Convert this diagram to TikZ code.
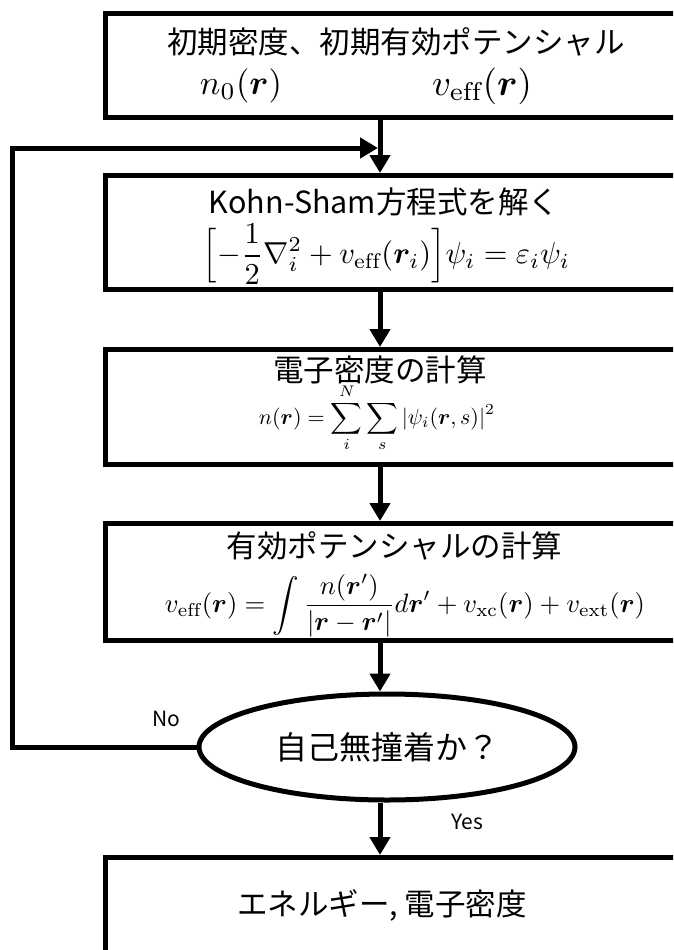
\documentclass[tikz,border=0pt]{standalone}
\usepackage{fontspec}
\usepackage{amsmath,bm,graphicx}
\usetikzlibrary{arrows.meta,shapes.geometric}
\newfontfamily\jp{Noto Sans CJK JP}
\tikzset{
  box/.style={draw, line width=5pt, minimum width=620pt, inner sep=0pt, anchor=north west},
  ttl/.style={font=\jp\fontsize{30.5}{36}\selectfont, inner sep=0pt},
  mth/.style={inner sep=0pt},
  dec/.style={ellipse, draw, line width=5pt, minimum width=376pt, minimum height=106pt, inner sep=0pt, font=\jp\fontsize{32}{38}\selectfont},
  lbl/.style={font=\jp\fontsize{21}{25}\selectfont, inner sep=0pt},
  arr/.style={-{Triangle[length=18pt,width=20pt]}, line width=5pt},
}
\begin{document}
\begin{tikzpicture}[x=1pt,y=-1pt]
\clip (0,0) rectangle (673,950);
\fill[white] (0,0) rectangle (673,950);
\coordinate (ax) at (380,0);
% boxes
\node[box, minimum height=104pt] (b1) at (103,11) {};
\node[box, minimum height=114pt] (b2) at (103,173) {};
\node[box, minimum height=115pt] (b3) at (103,347) {};
\node[box, minimum height=117pt] (b4) at (103,521) {};
\node[box, minimum height=130pt] (b5) at (103,855) {};
% texts
\node[ttl] (t1) at (396,42) {初期密度、初期有効ポテンシャル};
\node[mth] (m1a) at (241,86) {\resizebox{82pt}{!}{$n_0(\bm{r})$}};
\node[mth] (m1b) at (482,86) {\resizebox{100pt}{!}{$v_{\mathrm{eff}}(\bm{r})$}};
\node[ttl] (t2) at (384,202) {Kohn-Sham方程式を解く};
\node[mth] (m2) at (386.5,254) {\resizebox{367pt}{!}{$\displaystyle\Bigl[-\frac{1}{2}\nabla_i^2+v_{\mathrm{eff}}(\bm{r}_i)\Bigr]\psi_i=\varepsilon_i\psi_i$}};
\node[ttl] (t3) at (380,370) {電子密度の計算};
\node[mth] (m3) at (377,418) {\resizebox{236pt}{!}{$\displaystyle n(\bm{r})=\sum_i^N\sum_s|\psi_i(\bm{r},s)|^2$}};
\node[ttl] (t4) at (394.5,546) {有効ポテンシャルの計算};
\node[mth] (m4) at (405,606) {\resizebox{480pt}{!}{$\displaystyle v_{\mathrm{eff}}(\bm{r})=\int\frac{n(\bm{r}')}{|\bm{r}-\bm{r}'|}d\bm{r}'+v_{\mathrm{xc}}(\bm{r})+v_{\mathrm{ext}}(\bm{r})$}};
\node[dec] (d) at (387,747) {自己無撞着か？};
\node[ttl] (t5) at (382,905) {エネルギー, 電子密度};
\node[lbl] (no) at (166,719) {No};
\node[lbl] (yes) at (467,822) {Yes};
% connectors
\draw[arr] (b1.south -| ax) -- (b2.north -| ax);
\draw[arr] (b2.south -| ax) -- (b3.north -| ax);
\draw[arr] (b3.south -| ax) -- (b4.north -| ax);
\draw[arr] (b4.south -| ax) -- (d.north -| ax);
\draw[arr] (d.south -| ax) -- (b5.north -| ax);
\coordinate (fb) at (12,0);
\coordinate (join) at (378,148);
\draw[arr, line join=miter] (d.west) -| (fb |- join) -- (join);
\end{tikzpicture}
\end{document}
